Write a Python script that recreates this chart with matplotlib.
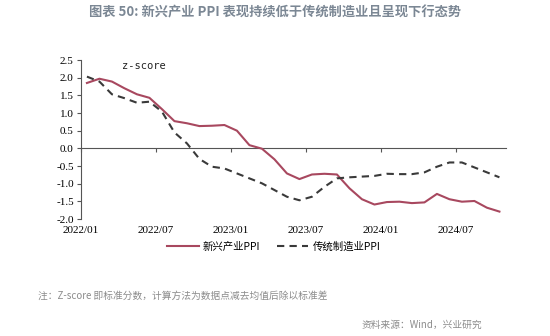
import numpy as np
import matplotlib.pyplot as plt

plt.rcParams['font.family'] = ['Noto Sans CJK SC', 'DejaVu Sans']
plt.rcParams['axes.unicode_minus'] = False

# monthly z-scores, 2022/01 - 2024/10
months = [f"{y}/{m:02d}" for y in (2022, 2023, 2024) for m in range(1, 13)][:34]
emerging = [1.85, 1.97, 1.89, 1.70, 1.53, 1.43, 1.11, 0.77, 0.71, 0.63, 0.64, 0.66,
            0.50, 0.09, -0.01, -0.31, -0.71, -0.87, -0.74, -0.72, -0.74, -1.13, -1.44, -1.59,
            -1.52, -1.51, -1.55, -1.53, -1.29, -1.44, -1.51, -1.49, -1.68, -1.79]
traditional = [2.03, 1.89, 1.53, 1.42, 1.29, 1.32, 1.04, 0.45, 0.14, -0.30, -0.52, -0.57,
               -0.71, -0.85, -0.99, -1.18, -1.37, -1.47, -1.37, -1.09, -0.85, -0.82, -0.80, -0.78,
               -0.72, -0.73, -0.73, -0.68, -0.52, -0.40, -0.40, -0.54, -0.68, -0.82]
tick_months = ["2022/01", "2022/07", "2023/01", "2023/07", "2024/01", "2024/07"]

x = np.arange(len(months)) + 0.5
tick_pos = [months.index(m) for m in tick_months]

fig = plt.figure(figsize=(5.5, 3.36), dpi=100)
ax = fig.add_axes([0.1467, 0.3482, 0.7727, 0.4732])

ax.plot(x, emerging, color='#a8485f', lw=1.5, label='新兴产业PPI')
ax.plot(x, traditional, color='#3a3a3a', lw=1.5, dashes=(3.5, 2.5), label='传统制造业PPI')

ax.set_xlim(0, len(months))
ax.set_ylim(-2.0, 2.5)
ax.set_yticks(np.arange(-2.0, 2.51, 0.5))
ax.set_yticklabels([f"{v:.1f}" for v in np.arange(-2.0, 2.51, 0.5)],
                   family='Liberation Serif', fontsize=8)
ax.set_xticks(tick_pos)
ax.set_xticklabels(tick_months, family='Liberation Serif', fontsize=8)
ax.tick_params(axis='x', length=0, pad=5)
ax.tick_params(axis='y', length=3, width=0.8, color='#555555', pad=2)

for s in ('top', 'right', 'bottom'):
    ax.spines[s].set_visible(False)
ax.spines['left'].set_color('#555555')
ax.spines['left'].set_linewidth(0.8)

# zero line with its own tick marks
zero = ax.secondary_xaxis(2.0 / 4.5)
zero.set_xticks(tick_pos)
zero.set_xticklabels([])
zero.tick_params(length=3, width=0.8, color='#555555', direction='out')
zero.spines['bottom'].set_color('#555555')
zero.spines['bottom'].set_linewidth(0.8)

ax.text(0.097, 0.96, 'z-score', transform=ax.transAxes, family='DejaVu Sans Mono',
        fontsize=7.5, ha='left', va='center', color='#222222')

fig.legend(loc='center', bbox_to_anchor=(0.498, 0.265), ncol=2, frameon=False,
           fontsize=7.5, handlelength=3.0, handletextpad=0.4, columnspacing=1.6)

fig.text(0.5, 1 - 12 / 336, '图表 50: 新兴产业 PPI 表现持续低于传统制造业且呈现下行态势',
         ha='center', va='center', fontsize=9.5, weight='bold', color='#7b8794')
fig.text(38 / 550, 1 - 296 / 336, '注：Z-score 即标准分数，计算方法为数据点减去均值后除以标准差',
         ha='left', va='center', fontsize=7, color='#8c8c8c')
fig.text(482 / 550, 1 - 325 / 336, '资料来源：Wind，兴业研究',
         ha='right', va='center', fontsize=7, color='#8c8c8c')

fig.savefig('out.png', dpi=100)
